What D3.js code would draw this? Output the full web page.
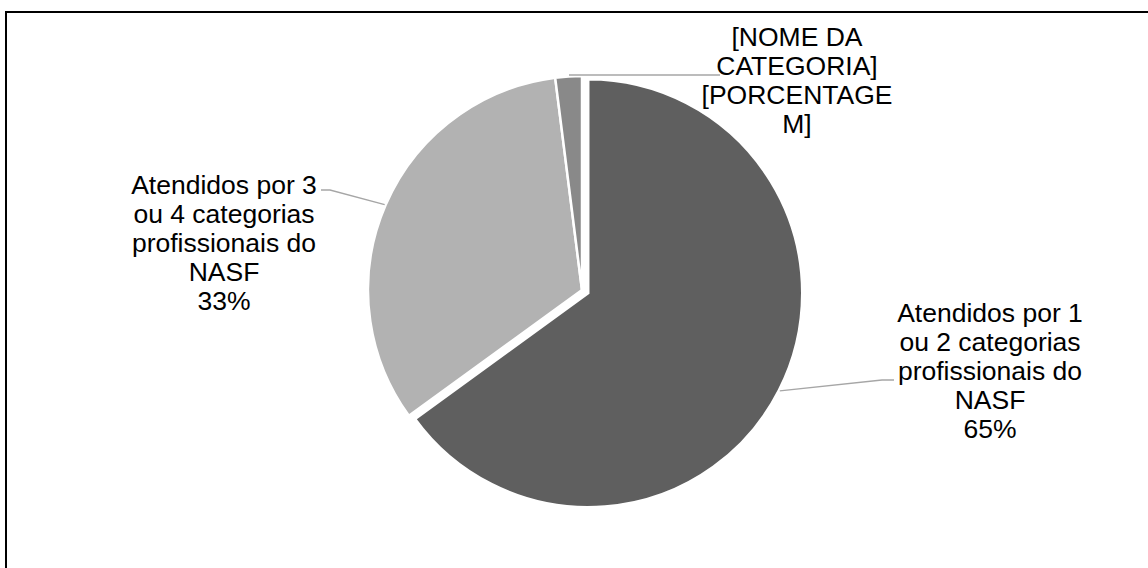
<!DOCTYPE html>
<html>
<head>
<meta charset="utf-8">
<script src="https://cdn.jsdelivr.net/npm/d3@7"></script>
<style>
  body { margin: 0; background: #fff; }
  svg { display: block; }
  text { font-family: "Liberation Sans", Arial, sans-serif; }
</style>
</head>
<body>
<div class="chart"></div>
<script>
// Chart data
const categories = [
  "Atendidos por 1 ou 2 categorias profissionais do NASF",
  "Atendidos por 3 ou 4 categorias profissionais do NASF",
  "[NOME DA CATEGORIA]"
];
const values = [65, 33, 2];
const labelLines = [
  ["Atendidos por 1", "ou 2 categorias", "profissionais do", "NASF", "65%"],
  ["Atendidos por 3", "ou 4 categorias", "profissionais do", "NASF", "33%"],
  ["[NOME DA", "CATEGORIA]", "[PORCENTAGE", "M]"]
];

// Layout
const width = 1148, height = 568;
const cx = 582, cy = 290, radius = 214;
const colors = ["#5f5f5f", "#b2b2b2", "#898989"];
const explode = [7, 0, 0];
const labelPos = [
  { x: 990, y: 313 },
  { x: 224, y: 185 },
  { x: 797, y: 37 }
];
const lineHeight = 29;

const svg = d3.select(".chart")
  .append("svg")
  .attr("width", width)
  .attr("height", height);

// Outer frame
svg.append("rect")
  .attr("x", 6)
  .attr("y", 12)
  .attr("width", width + 20)
  .attr("height", height + 20)
  .attr("fill", "none")
  .attr("stroke", "#000")
  .attr("stroke-width", 2);

const pie = d3.pie().sort(null).value(d => d);
const arcs = pie(values);
const arc = d3.arc().innerRadius(0).outerRadius(radius);

const g = svg.append("g").attr("transform", `translate(${cx},${cy})`);

// Offset of a slice along its mid angle
function offset(d, i) {
  const a = (d.startAngle + d.endAngle) / 2;
  return [Math.sin(a) * explode[i], -Math.cos(a) * explode[i]];
}

g.selectAll("path.slice")
  .data(arcs)
  .join("path")
  .attr("class", "slice")
  .attr("d", arc)
  .attr("fill", (d, i) => colors[i])
  .attr("stroke", "#fff")
  .attr("stroke-width", 2.5)
  .attr("transform", (d, i) => `translate(${offset(d, i)})`);

// Leader lines: from slice edge to label
function edgePoint(d, i) {
  const a = (d.startAngle + d.endAngle) / 2;
  const [ox, oy] = offset(d, i);
  return [cx + ox + Math.sin(a) * (radius + 1), cy + oy - Math.cos(a) * (radius + 1)];
}

const leaders = [
  d => { const p = edgePoint(d, 0); return [p, [882, 380], [894, 380]]; },
  d => { const p = edgePoint(d, 1); return [p, [330, 190], [321, 190]]; },
  d => [[569, 75], [720, 75]]
];

svg.selectAll("path.leader")
  .data(arcs)
  .join("path")
  .attr("class", "leader")
  .attr("d", (d, i) => d3.line()(leaders[i](d)))
  .attr("fill", "none")
  .attr("stroke", "#a6a6a6")
  .attr("stroke-width", 1.3);

// Labels
const labels = svg.selectAll("text.label")
  .data(arcs)
  .join("text")
  .attr("class", "label")
  .attr("text-anchor", "middle")
  .attr("font-size", 26.5)
  .attr("fill", "#000");

labels.each(function (d, i) {
  d3.select(this).selectAll("tspan")
    .data(labelLines[i])
    .join("tspan")
    .attr("x", labelPos[i].x)
    .attr("y", (t, j) => labelPos[i].y + j * lineHeight)
    .attr("dy", "0.35em")
    .text(t => t);
});
</script>
</body>
</html>
